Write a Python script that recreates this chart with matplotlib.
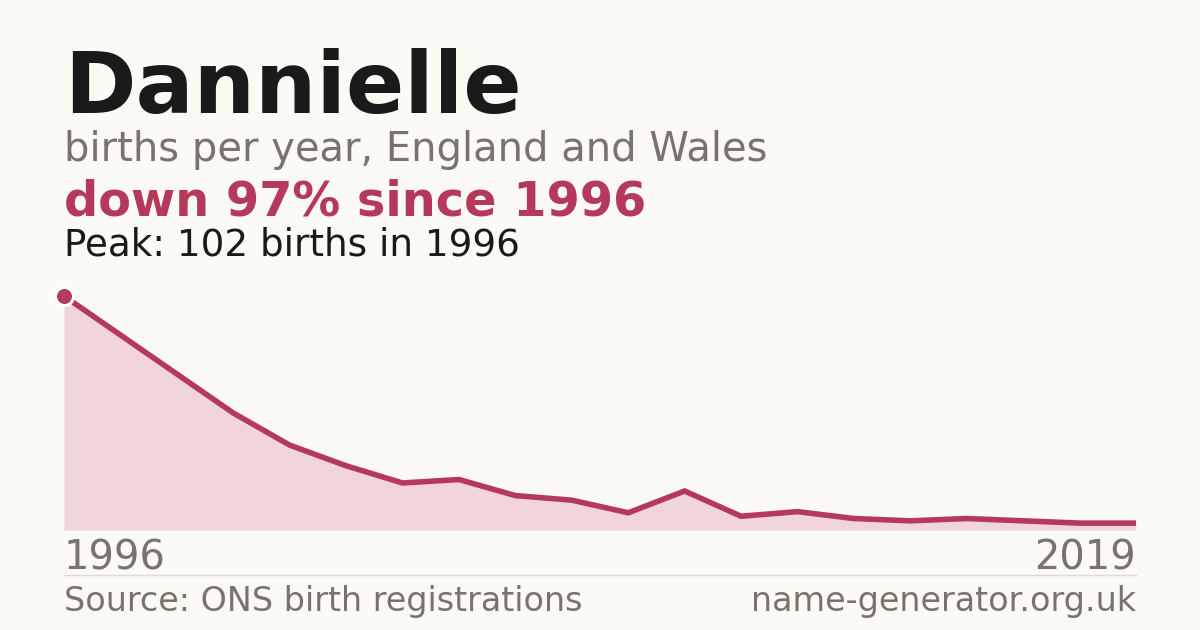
import matplotlib
matplotlib.use('Agg')
from matplotlib import pyplot as plt

# name data
name = 'Dannielle'
first_year = 1996
last_year = 2019
births = [102, 85, 68, 51, 37, 28, 20.5, 22, 15, 13,
          7.5, 17, 6, 8, 5, 4, 5, 4, 3, 3]

BG = '#fbfaf5'
RED = '#b5395a'
FILL = '#f2d5db'
GREY = '#78736c'
DARK = '#1a1a1a'

fig = plt.figure(figsize=(12, 6.3), dpi=100, facecolor=BG)

# chart area
ax = fig.add_axes([64/1200, 1-530/630, 1072/1200, 234/630])
ax.set_facecolor(BG)
xs = list(range(len(births)))
ax.fill_between(xs, births, 0, color=FILL, linewidth=0)
ax.plot(xs, births, color=RED, linewidth=4, solid_joinstyle='miter', solid_capstyle='butt')
ax.plot([0], [max(births)], marker='o', markersize=13, color=RED,
        markeredgecolor='white', markeredgewidth=2.2, clip_on=False, zorder=5)
ax.axhline(0, color='#e4dfd8', linewidth=1)
ax.set_xlim(0, len(births)-1)
ax.set_ylim(0, max(births))
ax.axis('off')

drop = round(100 * (1 - births[-1] / births[0]))

# texts
fig.text(64/1200, 1-113/630, name, fontsize=62, fontweight='bold', color=DARK, va='baseline')
fig.text(64/1200, 1-161/630, 'births per year, England and Wales', fontsize=28.8, color=GREY, va='baseline')
fig.text(64/1200, 1-216/630, f'down {drop}% since {first_year}', fontsize=34.5, fontweight='bold', color=RED, va='baseline')
fig.text(64/1200, 1-256/630, f'Peak: {max(births)} births in {first_year}', fontsize=26.8, color=DARK, va='baseline')

fig.text(64/1200, 1-570/630, str(first_year), fontsize=28.8, color=GREY, va='baseline')
fig.text(1136/1200, 1-570/630, str(last_year), fontsize=28.8, color=GREY, va='baseline', ha='right')

fig.add_artist(plt.Line2D([64/1200, 1136/1200], [1-575/630, 1-575/630], color='#e0dbd2', linewidth=1))

fig.text(64/1200, 1-611/630, 'Source: ONS birth registrations', fontsize=24, color=GREY, va='baseline')
fig.text(1136/1200, 1-611/630, 'name-generator.org.uk', fontsize=24, color=GREY, va='baseline', ha='right')

fig.savefig('out.png', dpi=100, facecolor=BG)
